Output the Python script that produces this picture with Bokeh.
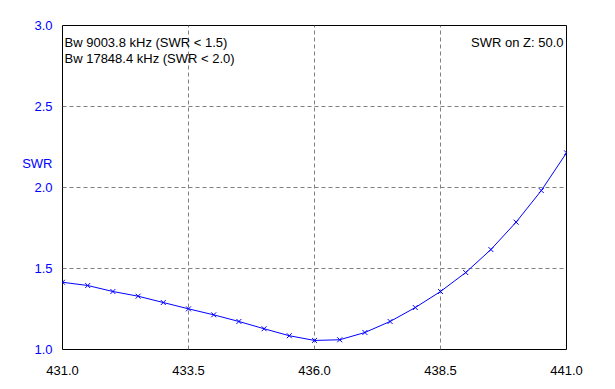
from bokeh.plotting import figure
from bokeh.models import Label, Range1d, FixedTicker, CustomJSTickFormatter
from bokeh.embed import file_html
from bokeh.resources import INLINE

freq = [431.0, 431.5, 432.0, 432.5, 433.0, 433.5, 434.0, 434.5, 435.0, 435.5,
        436.0, 436.5, 437.0, 437.5, 438.0, 438.5, 439.0, 439.5, 440.0, 440.5, 441.0]
swr = [1.415, 1.395, 1.358, 1.329, 1.290, 1.251, 1.214, 1.173, 1.128, 1.085,
       1.056, 1.060, 1.105, 1.173, 1.259, 1.358, 1.475, 1.617, 1.786, 1.981, 2.214]
x_ticks = [431.0, 433.5, 436.0, 438.5, 441.0]
y_ticks = [1.0, 1.5, 2.0, 2.5, 3.0]
y_title = "SWR"
y_title_pos = 2.148
info_left = ["Bw 9003.8 kHz (SWR < 1.5)", "Bw 17848.4 kHz (SWR < 2.0)"]
info_right = "SWR on Z: 50.0"

FONT = "Liberation Sans"

p = figure(width=607, height=381, output_backend="svg", toolbar_location=None,
           x_range=Range1d(431.0, 441.0), y_range=Range1d(1.0, 3.0),
           min_border_left=62, min_border_right=41, min_border_top=25, min_border_bottom=32)

p.line(freq, swr, line_color="#0000FF", line_width=1)
p.scatter(freq, swr, marker="x", size=7, line_color="#0000FF", line_width=1)

p.outline_line_color = "black"
p.outline_line_width = 1
p.outline_line_alpha = 1

for ax in (p.xaxis[0], p.yaxis[0]):
    ax.axis_line_color = None
    ax.major_tick_line_color = None
    ax.minor_tick_line_color = None
    ax.major_label_text_font = FONT
    ax.major_label_text_font_size = "13px"

p.xaxis[0].ticker = FixedTicker(ticks=x_ticks)
p.yaxis[0].ticker = FixedTicker(ticks=y_ticks + [y_title_pos])
p.xaxis[0].formatter = CustomJSTickFormatter(code="return tick.toFixed(1);")
p.yaxis[0].formatter = CustomJSTickFormatter(
    code="return Math.abs(tick - %r) < 1e-6 ? '%s' : tick.toFixed(1);" % (y_title_pos, y_title))
p.xaxis[0].major_label_text_color = "#000000"
p.yaxis[0].major_label_text_color = "#0000FF"
p.xaxis[0].major_label_standoff = 10
p.yaxis[0].major_label_standoff = 4

p.xgrid[0].ticker = FixedTicker(ticks=x_ticks)
p.ygrid[0].ticker = FixedTicker(ticks=y_ticks)
for g in (p.xgrid[0], p.ygrid[0]):
    g.grid_line_color = "#808080"
    g.grid_line_dash = "4 3"
    g.grid_line_width = 1

p.background_fill_color = "white"
p.border_fill_color = "white"

for i, t in enumerate(info_left):
    p.add_layout(Label(x=431.0, y=3.0, x_offset=2, y_offset=-17 - 16 * i, text=t,
                       text_color="black", text_font=FONT, text_font_size="13px",
                       text_baseline="middle"))
p.add_layout(Label(x=441.0, y=3.0, x_offset=-3, y_offset=-17, text=info_right,
                   text_color="black", text_font=FONT, text_font_size="13px",
                   text_baseline="middle", text_align="right"))

open("out.html", "w").write(file_html(p, INLINE))
